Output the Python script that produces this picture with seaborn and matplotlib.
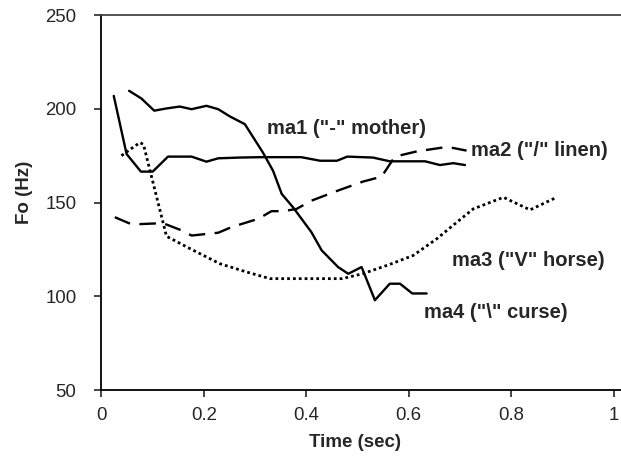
import numpy as np
import pandas as pd
import matplotlib
matplotlib.use("Agg")
import matplotlib.pyplot as plt
import seaborn as sns

# Данные (время в секундах, Fo в Гц)
ma1_t = [0.024, 0.049, 0.077, 0.100, 0.130, 0.176, 0.205, 0.228, 0.270, 0.310, 0.390,
         0.427, 0.460, 0.480, 0.530, 0.563, 0.632, 0.661, 0.687, 0.710]
ma1_f = [206.9, 175.9, 166.5, 166.5, 174.5, 174.5, 171.8, 173.6, 174.0, 174.2, 174.2,
         172.3, 172.3, 174.5, 174.0, 172.0, 172.0, 170.0, 171.0, 170.0]

ma2_t = [0.026, 0.056, 0.075, 0.120, 0.157, 0.176, 0.228, 0.254, 0.306, 0.332, 0.355,
         0.381, 0.410, 0.462, 0.511, 0.547, 0.573, 0.616, 0.668, 0.687, 0.713]
ma2_f = [142.2, 138.7, 138.5, 139.0, 135.1, 132.4, 133.9, 136.9, 141.3, 145.4, 145.4,
         146.6, 151.0, 156.4, 161.2, 163.8, 174.5, 177.3, 179.4, 179.1, 177.7]

ma3_t = [0.039, 0.075, 0.082, 0.127, 0.173, 0.231, 0.284, 0.329, 0.368, 0.420, 0.470,
         0.510, 0.563, 0.609, 0.655, 0.694, 0.726, 0.785, 0.837, 0.889]
ma3_f = [175.0, 182.0, 181.0, 132.0, 125.4, 117.4, 112.9, 109.4, 109.4, 109.4, 109.4,
         112.0, 117.0, 121.8, 130.7, 139.5, 146.6, 152.8, 146.1, 152.8]

ma4_t = [0.054, 0.078, 0.103, 0.127, 0.153, 0.176, 0.205, 0.228, 0.251, 0.280, 0.315,
         0.335, 0.352, 0.374, 0.410, 0.430, 0.462, 0.482, 0.508, 0.534, 0.563, 0.583,
         0.607, 0.635]
ma4_f = [209.6, 205.5, 199.0, 200.2, 201.2, 199.8, 201.6, 199.8, 195.9, 191.8, 176.8,
         167.0, 154.6, 147.5, 134.2, 124.5, 115.6, 112.0, 115.6, 97.9, 106.7, 106.7,
         101.5, 101.5]

labels = ['ma1 ("-" mother)', 'ma2 ("/" linen)', 'ma3 ("V" horse)', 'ma4 ("\\" curse)']
label_t = [0.323, 0.722, 0.684, 0.629]
label_f = [189.4, 177.7, 119.1, 91.5]

x_ticks = [0, 0.2, 0.4, 0.6, 0.8, 1]
x_tick_labels = ["0", "0.2", "0.4", "0.6", "0.8", "1"]
y_ticks = [50, 100, 150, 200, 250]

sns.set_style("ticks")
plt.rcParams["font.family"] = ["Liberation Sans", "DejaVu Sans"]

fig = plt.figure(figsize=(6.21, 4.57), dpi=100)
ax = fig.add_axes([0.1634, 0.1466, 1 - 0.1634, 0.967 - 0.1466])

lw = 1.7
sns.lineplot(x=ma1_t, y=ma1_f, sort=False, color="black", linewidth=lw, ax=ax)
sns.lineplot(x=ma2_t, y=ma2_f, sort=False, color="black", linewidth=lw,
             linestyle=(0, (7, 4)), ax=ax)
sns.lineplot(x=ma3_t, y=ma3_f, sort=False, color="black", linewidth=2.0,
             linestyle=(0, (1, 1.1)), ax=ax)
sns.lineplot(x=ma4_t, y=ma4_f, sort=False, color="black", linewidth=lw, ax=ax)

for txt, tx, fy in zip(labels, label_t, label_f):
    ax.text(tx, fy, txt, fontsize=14.5, fontweight="bold", va="center", ha="left")

ax.set_xlim(0, 1.0146)
ax.set_ylim(50, 250)
ax.set_xticks(x_ticks)
ax.set_xticklabels(x_tick_labels)
ax.set_yticks(y_ticks)
ax.tick_params(axis="y", direction="out", length=5, width=1.2, pad=13, labelsize=13.4)
ax.tick_params(axis="x", direction="out", length=5, width=1.2, pad=7, labelsize=13.4)

for s in ["left", "bottom"]:
    ax.spines[s].set_color("black")
    ax.spines[s].set_linewidth(1.3)
ax.spines["right"].set_visible(False)
ax.spines["top"].set_visible(True)
ax.spines["top"].set_color("#444444")
ax.spines["top"].set_linewidth(1.3)
ax.yaxis.get_major_ticks()[-1].tick1line.set_color("#444444")

ax.set_xlabel("Time (sec)", fontsize=13.5, fontweight="bold")
ax.set_ylabel("Fo (Hz)", fontsize=13.5, fontweight="bold")
ax.xaxis.set_label_coords((355 - 101.5) / (621 - 101.5), -(434 - 390) / (390 - 15))
ax.yaxis.set_label_coords(-(101.5 - 33) / (621 - 101.5), (390 - 192) / (390 - 15))

fig.savefig("out.png", dpi=100)
